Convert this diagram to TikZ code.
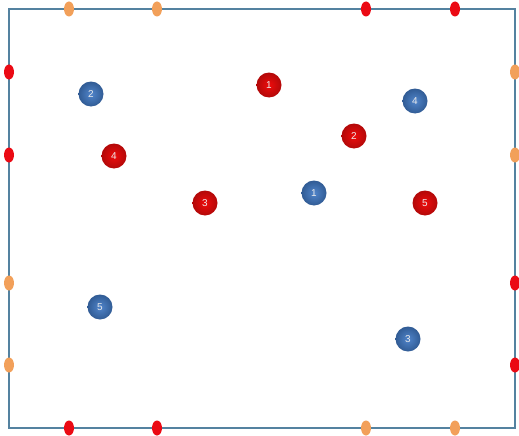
\documentclass[tikz,border=0pt]{standalone}
\usepackage{fontspec}
\setsansfont{Liberation Sans}
\usepackage{xcolor}
\usetikzlibrary{shapes.geometric, positioning}

\definecolor{framecol}{RGB}{84,130,160}
\definecolor{pinred}{RGB}{235,10,20}
\definecolor{pinorange}{RGB}{242,160,90}
\definecolor{ballblue}{RGB}{65,122,198}
\definecolor{ballred}{RGB}{238,12,12}

\begin{document}
\begin{tikzpicture}[
  x=1pt, y=-1pt,
  ball/.style={circle, minimum size=25pt, inner sep=0pt, font=\sffamily\fontsize{10}{10}\selectfont, text=white!92!black, shading=radial},
  blueball/.style={ball, inner color=ballblue!92!white, outer color=ballblue!75!black},
  redball/.style={ball, inner color=ballred, outer color=ballred!75!black},
  pin/.style={ellipse, minimum width=10pt, minimum height=15pt, inner sep=0pt},
  redpin/.style={pin, fill=pinred},
  orangepin/.style={pin, fill=pinorange},
  frame/.style={draw=framecol, line width=1.4pt}
]
  \useasboundingbox (0,0) rectangle (519,436);

  % frame
  \coordinate (tl) at (9,9);
  \coordinate (br) at (515,428);
  \draw[frame] (tl) rectangle (br);

  % pins on top and bottom
  \node[orangepin] (t1) at (69,9) {};
  \node[orangepin] (t2) at (157,9) {};
  \node[redpin] (t3) at (366,9) {};
  \node[redpin] (t4) at (455,9) {};
  \node[redpin] (b1) at (69,428) {};
  \node[redpin] (b2) at (157,428) {};
  \node[orangepin] (b3) at (366,428) {};
  \node[orangepin] (b4) at (455,428) {};

  % pins on left and right
  \node[redpin] (l1) at (9,72) {};
  \node[redpin] (l2) at (9,155) {};
  \node[orangepin] (l3) at (9,283) {};
  \node[orangepin] (l4) at (9,365) {};
  \node[orangepin] (r1) at (515,72) {};
  \node[orangepin] (r2) at (515,155) {};
  \node[redpin] (r3) at (515,283) {};
  \node[redpin] (r4) at (515,365) {};

  % blue balls
  \node[blueball] (blue1) at (314,193) {1};
  \node[blueball] (blue2) at (91,94) {2};
  \node[blueball] (blue3) at (408,339) {3};
  \node[blueball] (blue4) at (415,101) {4};
  \node[blueball] (blue5) at (100,307) {5};

  % red balls
  \node[redball] (red1) at (269,85) {1};
  \node[redball] (red2) at (354,136) {2};
  \node[redball] (red3) at (205,203) {3};
  \node[redball] (red4) at (114,156) {4};
  \node[redball] (red5) at (425,203) {5};

\end{tikzpicture}
\end{document}
